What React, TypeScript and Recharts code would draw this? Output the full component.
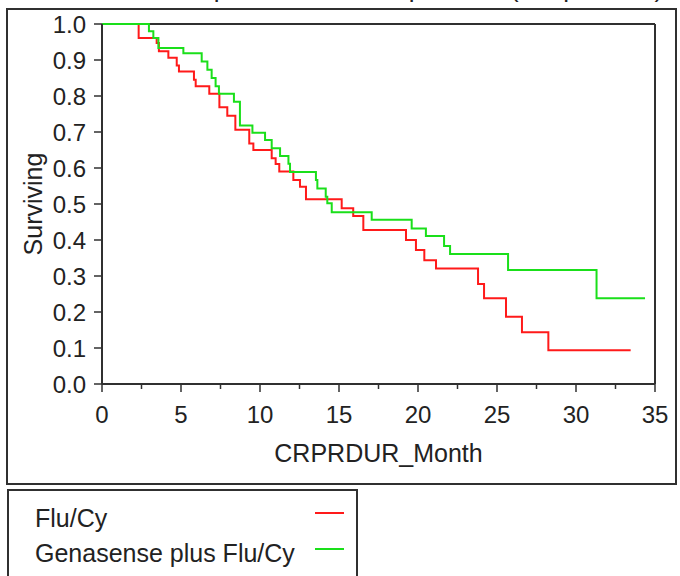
import React from 'react';
import { LineChart, Line, XAxis, YAxis, ReferenceLine, Legend } from 'recharts';

const TITLE = 'Duration of Response for all Responders (CR plus PR)';
const SERIES_NAMES = ['Flu/Cy', 'Genasense plus Flu/Cy'];
const SERIES_COLORS = ['#ff1a1a', '#1adf1a'];

const fluCyMonths = [0, 2.32, 3.46, 3.6, 4.2, 4.73, 4.87, 5.82, 5.93, 6.79, 7.43, 7.93, 8.44, 9.32, 9.58, 10.74, 10.99, 11.22, 12.11, 12.53, 12.91, 15.17, 15.9, 16.54, 19.24, 19.87, 20.4, 21.14, 23.8, 24.18, 25.57, 26.58, 28.25, 33.46];
const fluCySurv = [1.0, 0.961, 0.947, 0.924, 0.906, 0.885, 0.868, 0.845, 0.827, 0.806, 0.769, 0.745, 0.706, 0.668, 0.65, 0.627, 0.611, 0.59, 0.567, 0.548, 0.513, 0.488, 0.467, 0.428, 0.4, 0.372, 0.344, 0.321, 0.278, 0.238, 0.187, 0.144, 0.094, 0.094];

const genMonths = [0, 2.97, 3.25, 3.57, 5.15, 6.31, 6.67, 6.94, 7.19, 7.4, 8.35, 8.73, 9.52, 10.32, 10.74, 11.27, 11.8, 11.9, 13.54, 13.63, 14.16, 14.26, 14.54, 17.07, 19.6, 20.5, 21.65, 22.03, 25.7, 31.3, 34.37];
const genSurv = [1.0, 0.98, 0.961, 0.933, 0.919, 0.896, 0.873, 0.85, 0.827, 0.806, 0.784, 0.718, 0.698, 0.678, 0.655, 0.633, 0.612, 0.589, 0.567, 0.543, 0.52, 0.502, 0.477, 0.456, 0.432, 0.411, 0.383, 0.361, 0.317, 0.238, 0.238];

const xTicks = [0, 2.5, 5, 7.5, 10, 12.5, 15, 17.5, 20, 22.5, 25, 27.5, 30, 32.5, 35];
const yTicks = [0, 0.1, 0.2, 0.3, 0.4, 0.5, 0.6, 0.7, 0.8, 0.9, 1.0];

const fluCyData = fluCyMonths.map((t, i) => ({ t, s: fluCySurv[i] }));
const genData = genMonths.map((t, i) => ({ t, s: genSurv[i] }));

const FONT = '"Liberation Sans", Arial, sans-serif';
const AXIS = '#303030';
const TEXT = '#222';

const XTick = (props: any) => {
  const { x, y, payload } = props;
  const major = payload.value % 5 === 0;
  return (
    <g>
      <line x1={x} x2={x} y1={y} y2={y + (major ? 8 : 5)} stroke={AXIS} strokeWidth={1.5} />
      {major && (
        <text x={x} y={y + 39} textAnchor="middle" fontSize={24} fill={TEXT} fontFamily={FONT}>
          {payload.value}
        </text>
      )}
    </g>
  );
};

const LegendBox = (props: any) => {
  const payload = props.payload || [];
  return (
    <div style={{ position: 'relative', width: 351, height: 100, border: '2px solid #303030', boxSizing: 'border-box', background: '#fff', fontFamily: FONT }}>
      {payload.map((p: any, i: number) => (
        <React.Fragment key={i}>
          <div style={{ position: 'absolute', left: 26, top: 12 + i * 35, fontSize: 25, lineHeight: '30px', color: TEXT, whiteSpace: 'nowrap' }}>
            {p.value}
          </div>
          <div style={{ position: 'absolute', left: 306, top: 21 + i * 36, width: 29, height: 2, background: p.color }} />
        </React.Fragment>
      ))}
    </div>
  );
};

export default function App() {
  return (
    <div style={{ position: 'absolute', left: 0, top: 0, width: 680, height: 576, overflow: 'hidden', background: '#fff', fontFamily: FONT }}>
      <div style={{ position: 'absolute', left: 33, top: -25, fontSize: 26, lineHeight: '26px', whiteSpace: 'nowrap', color: TEXT }}>
        {TITLE}
      </div>
      <div style={{ position: 'absolute', left: 6, top: 8, width: 671, height: 477, border: '2px solid #303030', boxSizing: 'border-box' }} />
      <div style={{ position: 'absolute', left: 0, top: 0 }}>
        <LineChart width={680} height={576} margin={{ top: 24, right: 25, bottom: 112, left: 8 }}>
          <XAxis
            dataKey="t"
            type="number"
            domain={[0, 35]}
            ticks={xTicks}
            interval={0}
            allowDataOverflow
            height={80}
            tickSize={0}
            tickMargin={0}
            tickLine={false}
            tick={<XTick />}
            axisLine={{ stroke: AXIS, strokeWidth: 2 }}
            label={{ value: 'CRPRDUR_Month', position: 'insideBottom', offset: 2, fontSize: 25, fill: TEXT, fontFamily: FONT }}
          />
          <YAxis
            type="number"
            domain={[0, 1]}
            ticks={yTicks}
            interval={0}
            width={94}
            tickSize={8}
            tickMargin={8}
            tickLine={{ stroke: AXIS, strokeWidth: 1.5 }}
            axisLine={{ stroke: AXIS, strokeWidth: 2 }}
            tickFormatter={(v: number) => v.toFixed(1)}
            tick={{ fontSize: 24, fill: TEXT, fontFamily: FONT }}
            label={{ value: 'Surviving', angle: -90, position: 'insideLeft', offset: 25, fontSize: 25, fill: TEXT, fontFamily: FONT, style: { textAnchor: 'middle' } }}
          />
          <ReferenceLine y={1} stroke={AXIS} strokeWidth={2} />
          <ReferenceLine x={35} stroke={AXIS} strokeWidth={2} />
          <Line data={fluCyData} dataKey="s" name={SERIES_NAMES[0]} type="stepAfter" stroke={SERIES_COLORS[0]} strokeWidth={2} dot={false} activeDot={false} isAnimationActive={false} />
          <Line data={genData} dataKey="s" name={SERIES_NAMES[1]} type="stepAfter" stroke={SERIES_COLORS[1]} strokeWidth={2} dot={false} activeDot={false} isAnimationActive={false} />
          <Legend
            layout="horizontal"
            verticalAlign="middle"
            align="center"
            content={<LegendBox />}
            wrapperStyle={{ left: 7, top: 489, width: 351, height: 100 }}
          />
        </LineChart>
      </div>
    </div>
  );
}
